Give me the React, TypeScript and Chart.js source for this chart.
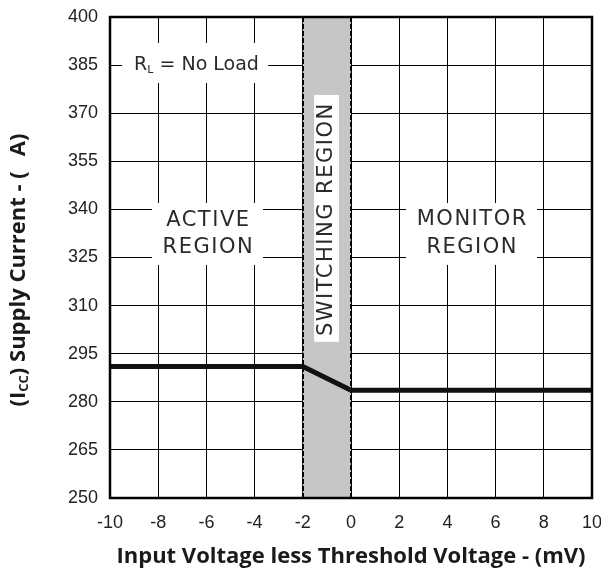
import React, { useEffect, useRef } from "react";
import { Chart, registerables } from "chart.js";
Chart.register(...registerables);

// ---- data ----
const xMin = -10;
const xMax = 10;
const xStep = 2;
const yMin = 250;
const yMax = 400;
const yStep = 15;
const voltage = [-10, -2, 0, 10];
const supplyCurrent = [291, 291, 283.6, 283.6];
const switchingRegion = [-2, 0];

const xTitle = "Input Voltage less Threshold Voltage - (mV)";
const yTitleParts = ["(I", "CC", ") Supply Current - (", "A)"];

// annotation boxes in data units: [x0, x1, yTop, yBottom]
const loadBox = [-9.5, -3.44, 391.9, 379.4];
const activeBox = [-8.26, -3.65, 342, 322.7];
const monitorBox = [2.28, 7.72, 342, 322.7];
const switchBox = [-1.53, -0.5, 375.7, 298.7];

const annotPlugin = {
  id: "annot",
  beforeDatasetsDraw(chart: any) {
    const { ctx, chartArea: a, scales } = chart;
    const x = scales.x;
    const y = scales.y;
    ctx.save();
    const x0 = x.getPixelForValue(switchingRegion[0]);
    const x1 = x.getPixelForValue(switchingRegion[1]);
    ctx.fillStyle = "#c6c6c6";
    ctx.fillRect(x0, a.top, x1 - x0, a.bottom - a.top);
    ctx.strokeStyle = "#000";
    ctx.lineWidth = 2;
    ctx.setLineDash([5, 2]);
    [x0, x1].forEach((xx) => {
      ctx.beginPath();
      ctx.moveTo(Math.round(xx), a.top);
      ctx.lineTo(Math.round(xx), a.bottom);
      ctx.stroke();
    });
    ctx.setLineDash([]);

    const box = (b: number[]) => {
      const l = x.getPixelForValue(b[0]);
      const r = x.getPixelForValue(b[1]);
      const t = y.getPixelForValue(b[2]);
      const bt = y.getPixelForValue(b[3]);
      ctx.fillStyle = "#fff";
      ctx.fillRect(l, t, r - l, bt - t);
    };
    [loadBox, activeBox, monitorBox, switchBox].forEach(box);

    ctx.fillStyle = "#2a2a2a";
    ctx.textBaseline = "middle";
    ctx.textAlign = "center";
    ctx.font = "21px 'DejaVu Sans'";
    (ctx as any).letterSpacing = "1.5px";
    const ax = x.getPixelForValue(-5.95);
    ctx.fillText("ACTIVE", ax + 0.75, y.getPixelForValue(336.4));
    ctx.fillText("REGION", ax + 0.75, y.getPixelForValue(328));
    const mx = x.getPixelForValue(5.0);
    ctx.fillText("MONITOR", mx + 0.75, y.getPixelForValue(336.7));
    ctx.fillText("REGION", mx + 0.75, y.getPixelForValue(328));

    // switching region vertical
    ctx.save();
    ctx.translate(x.getPixelForValue(-1.02), y.getPixelForValue(336.7));
    ctx.rotate(-Math.PI / 2);
    ctx.fillText("SWITCHING REGION", 0.75, 0);
    ctx.restore();

    // R_L = No Load
    (ctx as any).letterSpacing = "0px";
    ctx.textAlign = "left";
    const ly = y.getPixelForValue(385);
    let lx = x.getPixelForValue(-9.0);
    ctx.font = "19px 'DejaVu Sans'";
    ctx.fillText("R", lx, ly);
    lx += ctx.measureText("R").width;
    ctx.font = "11px 'DejaVu Sans'";
    ctx.fillText("L", lx, ly + 5);
    lx += ctx.measureText("L").width;
    ctx.font = "19px 'DejaVu Sans'";
    ctx.fillText(" = No Load", lx, ly);
    ctx.restore();
  },
  afterDatasetsDraw(chart: any) {
    const { ctx, chartArea: a } = chart;
    ctx.save();
    ctx.strokeStyle = "#000";
    ctx.lineWidth = 2.5;
    ctx.strokeRect(a.left, a.top, a.right - a.left, a.bottom - a.top);
    ctx.restore();
  },
  afterDraw(chart: any) {
    const { ctx, chartArea: a } = chart;
    ctx.save();
    ctx.fillStyle = "#1a1a1a";
    ctx.textBaseline = "middle";
    ctx.textAlign = "center";
    ctx.font = "bold 22px 'Open Sans'";
    ctx.fillText(xTitle, (a.left + a.right) / 2, 557);

    // y title rotated
    ctx.translate(19, 270);
    ctx.rotate(-Math.PI / 2);
    const big = "bold 22px 'Open Sans'";
    const small = "bold 13px 'Open Sans'";
    const gap = 15;
    ctx.font = big;
    const w0 = ctx.measureText(yTitleParts[0]).width;
    const w2 = ctx.measureText(yTitleParts[2]).width;
    const w3 = ctx.measureText(yTitleParts[3]).width;
    ctx.font = small;
    const w1 = ctx.measureText(yTitleParts[1]).width;
    const total = w0 + w1 + w2 + gap + w3;
    ctx.textAlign = "left";
    let px = -total / 2;
    ctx.font = big;
    ctx.fillText(yTitleParts[0], px, 0);
    px += w0;
    ctx.font = small;
    ctx.fillText(yTitleParts[1], px, 5);
    px += w1;
    ctx.font = big;
    ctx.fillText(yTitleParts[2], px, 0);
    px += w2 + gap;
    ctx.fillText(yTitleParts[3], px, 0);
    ctx.restore();
  },
};

export default function App() {
  const ref = useRef<HTMLCanvasElement>(null);
  useEffect(() => {
    if (!ref.current) return;
    const chart = new Chart(ref.current, {
      type: "line",
      data: {
        datasets: [
          {
            data: voltage.map((v, i) => ({ x: v, y: supplyCurrent[i] })),
            borderColor: "#111",
            borderWidth: 5,
            pointRadius: 0,
            tension: 0,
            fill: false,
          },
        ],
      },
      options: {
        animation: false,
        responsive: false,
        events: [],
        layout: { padding: { top: 17, right: 9, left: 0, bottom: 0 } },
        plugins: { legend: { display: false }, tooltip: { enabled: false }, title: { display: false } },
        scales: {
          x: {
            type: "linear",
            min: xMin,
            max: xMax,
            ticks: {
              stepSize: xStep,
              color: "#222",
              font: { family: "'Liberation Sans'", size: 18 },
              padding: 14,
              maxRotation: 0,
              autoSkip: false,
            },
            grid: { color: "#000", lineWidth: 1, drawTicks: false },
            border: { display: false },
            afterFit: (s: any) => {
              s.height = 74;
              s.paddingLeft = 0;
              s.paddingRight = 0;
            },
          },
          y: {
            type: "linear",
            min: yMin,
            max: yMax,
            ticks: {
              stepSize: yStep,
              color: "#222",
              font: { family: "'Liberation Sans'", size: 18 },
              padding: 12,
              autoSkip: false,
            },
            grid: { color: "#000", lineWidth: 1, drawTicks: false },
            border: { display: false },
            afterFit: (s: any) => {
              s.width = 110;
              s.paddingTop = 0;
              s.paddingBottom = 0;
            },
          },
        },
      },
      plugins: [annotPlugin],
    } as any);
    return () => chart.destroy();
  }, []);
  return (
    <div style={{ position: "absolute", left: 0, top: 0, width: 601, height: 572, background: "#fff" }}>
      <canvas ref={ref} width={601} height={572} />
    </div>
  );
}
